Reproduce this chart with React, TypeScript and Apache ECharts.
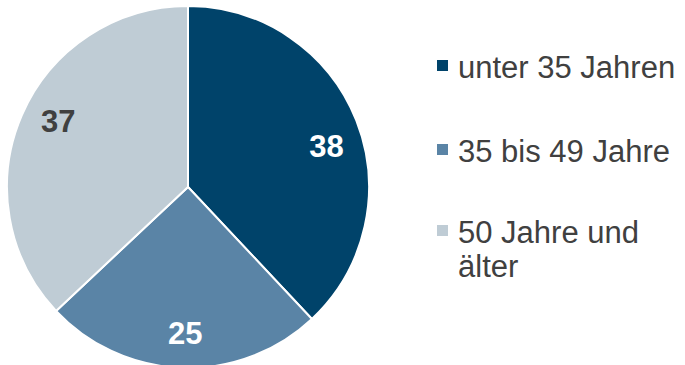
import React, { useEffect, useRef } from "react";
import * as echarts from "echarts";

const categories = ["unter 35 Jahren", "35 bis 49 Jahre", "50 Jahre und älter"];
const legendLabels = ["unter 35 Jahren", "35 bis 49 Jahre", "50 Jahre und\nälter"];
const values = [38, 25, 37];
const colors = ["#00436a", "#5a84a6", "#bfccd5"];
const labelColors = ["#ffffff", "#ffffff", "#404040"];

export default function App() {
  const ref = useRef<HTMLDivElement>(null);
  useEffect(() => {
    if (!ref.current) return;
    const chart = echarts.init(ref.current, undefined, { renderer: "svg" });
    const font = "'Liberation Sans', Arial, sans-serif";
    const legendTops = [60, 144, 225];
    const labelOffsets = [[0, 14], [2, -2], [7, -6]];
    const graphics: any[] = [];
    categories.forEach((c, i) => {
      graphics.push({
        type: "rect",
        shape: { x: 437, y: legendTops[i], width: 11, height: 11 },
        style: { fill: colors[i] },
      });
      graphics.push({
        type: "text",
        x: 458,
        y: legendTops[i] + 7 - 17,
        style: {
          text: legendLabels[i],
          fill: "#404040",
          fontSize: 31,
          fontFamily: font,
          lineHeight: 34,
          align: "left",
          verticalAlign: "top",
        },
      });
    });
    chart.setOption({
      animation: false,
      graphic: graphics,
      series: [
        {
          type: "pie",
          center: [188, 187],
          radius: [0, 181],
          startAngle: 90,
          clockwise: true,
          silent: true,
          label: { show: false },
          labelLine: { show: false },
          itemStyle: { borderColor: "#ffffff", borderWidth: 2 },
          data: categories.map((c, i) => ({
            name: c,
            value: values[i],
            itemStyle: { color: colors[i] },
          })),
        },
        {
          type: "pie",
          center: [188, 187],
          radius: [0, 292],
          startAngle: 90,
          clockwise: true,
          silent: true,
          z: 5,
          labelLine: { show: false },
          itemStyle: { color: "transparent", borderWidth: 0 },
          label: {
            show: true,
            position: "inside",
            fontFamily: font,
            fontSize: 31,
            fontWeight: "bold",
            formatter: "{c}",
          },
          data: categories.map((c, i) => ({
            name: c,
            value: values[i],
            label: { color: labelColors[i], offset: labelOffsets[i] },
          })),
        },
      ],
    });
    return () => chart.dispose();
  }, []);
  return <div ref={ref} style={{ width: 685, height: 365, position: "absolute", left: 0, top: 0 }} />;
}
